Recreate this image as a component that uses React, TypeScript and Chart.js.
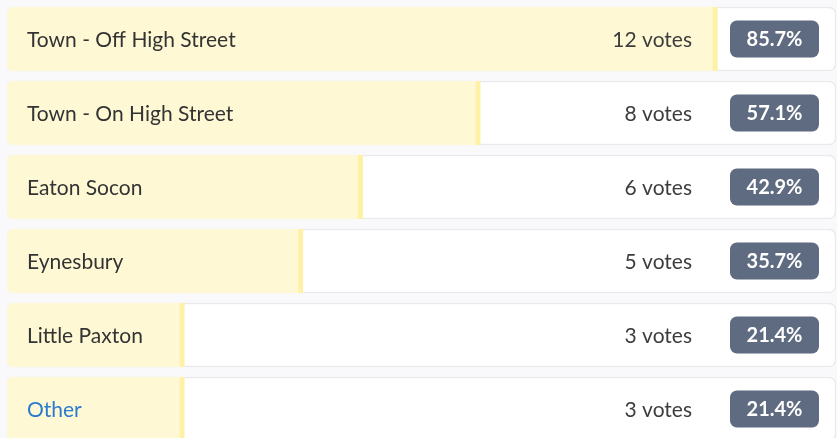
import React, { useEffect, useRef } from "react";
import { Chart, registerables } from "chart.js";

Chart.register(...registerables);

const options = [
  "Town - Off High Street",
  "Town - On High Street",
  "Eaton Socon",
  "Eynesbury",
  "Little Paxton",
  "Other",
];
const votes = [12, 8, 6, 5, 3, 3];
const percents = [85.7, 57.1, 42.9, 35.7, 21.4, 21.4];
const fullScale = [100, 100, 100, 100, 100, 100];

const FONT = "Lato, 'Open Sans', sans-serif";

function roundRect(ctx: CanvasRenderingContext2D, x: number, y: number, w: number, h: number, r: number) {
  ctx.beginPath();
  ctx.moveTo(x + r, y);
  ctx.lineTo(x + w - r, y);
  ctx.arcTo(x + w, y, x + w, y + r, r);
  ctx.lineTo(x + w, y + h - r);
  ctx.arcTo(x + w, y + h, x + w - r, y + h, r);
  ctx.lineTo(x + r, y + h);
  ctx.arcTo(x, y + h, x, y + h - r, r);
  ctx.lineTo(x, y + r);
  ctx.arcTo(x, y, x + r, y, r);
  ctx.closePath();
}

const textPlugin = {
  id: "pollText",
  afterDatasetsDraw(chart: any) {
    const ctx = chart.ctx as CanvasRenderingContext2D;
    const yScale = chart.scales.y;
    const area = chart.chartArea;
    ctx.save();
    options.forEach((label, i) => {
      const y = yScale.getPixelForValue(i);
      // option label
      ctx.font = `400 21px ${FONT}`;
      ctx.textBaseline = "middle";
      ctx.textAlign = "left";
      ctx.fillStyle = label === "Other" ? "#2a7ad0" : "#333333";
      ctx.fillText(label, area.left + 20, y + 1);
      // votes
      ctx.textAlign = "right";
      ctx.fillStyle = "#3d3d3d";
      ctx.fillText(`${votes[i]} votes`, area.right - 144, y + 1);
      // badge
      const bw = 89;
      const bh = 37;
      const bx = area.right - 17 - bw;
      const by = y - bh / 2;
      roundRect(ctx, bx, by, bw, bh, 7);
      ctx.fillStyle = "#5f6b80";
      ctx.fill();
      ctx.fillStyle = "#ffffff";
      ctx.font = `700 20px ${FONT}`;
      ctx.textAlign = "center";
      ctx.fillText(`${percents[i].toFixed(1)}%`, bx + bw / 2, y + 1);
    });
    ctx.restore();
  },
};

export default function App() {
  const ref = useRef<HTMLCanvasElement | null>(null);

  useEffect(() => {
    if (!ref.current) return;
    const chart = new Chart(ref.current, {
      type: "bar",
      data: {
        labels: options,
        datasets: [
          {
            label: "fill",
            data: percents,
            backgroundColor: "#fef9d4",
            borderColor: "#fef1a6",
            borderWidth: { left: 0, top: 0, bottom: 0, right: 5 } as any,
            borderSkipped: false,
            borderRadius: { topLeft: 6, bottomLeft: 6, topRight: 0, bottomRight: 0 },
            barThickness: 64,
            grouped: false,
            order: 1,
          },
          {
            label: "card",
            data: fullScale,
            backgroundColor: "#ffffff",
            borderColor: "#eaeaee",
            borderWidth: 1.5,
            borderSkipped: false,
            borderRadius: 7,
            barThickness: 64,
            grouped: false,
            order: 2,
          },
        ],
      },
      options: {
        indexAxis: "y",
        animation: false,
        responsive: false,
        layout: { padding: { left: 7, right: 0, top: 2, bottom: 4 } },
        plugins: {
          legend: { display: false },
          tooltip: { enabled: false },
        },
        scales: {
          x: { display: false, min: 0, max: 100 },
          y: { display: false },
        },
      },
      plugins: [textPlugin],
    });
    return () => chart.destroy();
  }, []);

  return (
    <div
      style={{
        position: "fixed",
        left: 0,
        top: 0,
        width: 837,
        height: 438,
        overflow: "hidden",
        background: "#f9f9fb",
      }}
    >
      <canvas ref={ref} width={836} height={450} style={{ display: "block" }} />
    </div>
  );
}
